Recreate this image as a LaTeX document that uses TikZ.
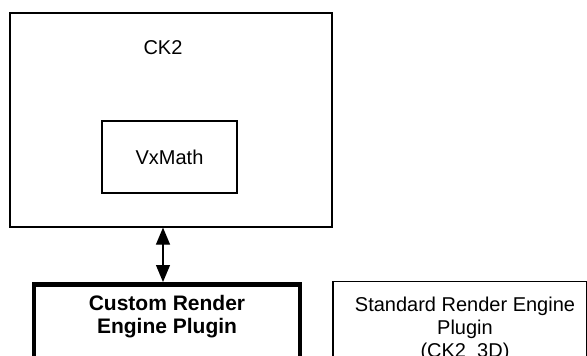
\documentclass[tikz,border=0pt]{standalone}
\usepackage{fontspec}
\setmainfont{Liberation Sans}
\usetikzlibrary{arrows.meta,positioning}
\tikzset{
  frame/.style={draw,line width=1.2pt,inner sep=0pt},
  plugin/.style={draw,line width=4.5pt,inner sep=0pt},
  caption/.style={align=center,font=\fontsize{20}{23}\selectfont},
  link/.style={line width=1.2pt,{Triangle[length=17pt,width=14pt]}-{Triangle[length=17pt,width=14pt]}}
}

\begin{document}
\begin{tikzpicture}[x=1pt,y=-1pt]
  \useasboundingbox (0,0) rectangle (587,356);
  \clip (0,0) rectangle (587,356);
  % core blocks
  \node[frame,minimum width=322pt,minimum height=214pt] (ck2) at (171,120) {};
  \node[caption] (ck2name) at (163,48) {CK2};
  \node[frame,minimum width=135pt,minimum height=72pt,caption] (vxmath) at (169.5,157) {VxMath};
  % plugins
  \node[plugin,minimum width=266pt,minimum height=140pt,anchor=north] (custom) at (167,282) {};
  \node[caption,font=\fontsize{21}{23}\selectfont\bfseries,below=10pt of custom.north] (customname)
    {Custom Render\\Engine Plugin};
  \node[frame,minimum width=254pt,minimum height=140pt,anchor=north] (standard) at (460,281) {};
  \node[caption,below=12pt of standard.north,xshift=5pt] (standardname)
    {Standard Render Engine\\Plugin\\(CK2\_3D)};
  \draw[link] (ck2.south -| ck2name) -- (custom.north -| ck2name);
\end{tikzpicture}
\end{document}
